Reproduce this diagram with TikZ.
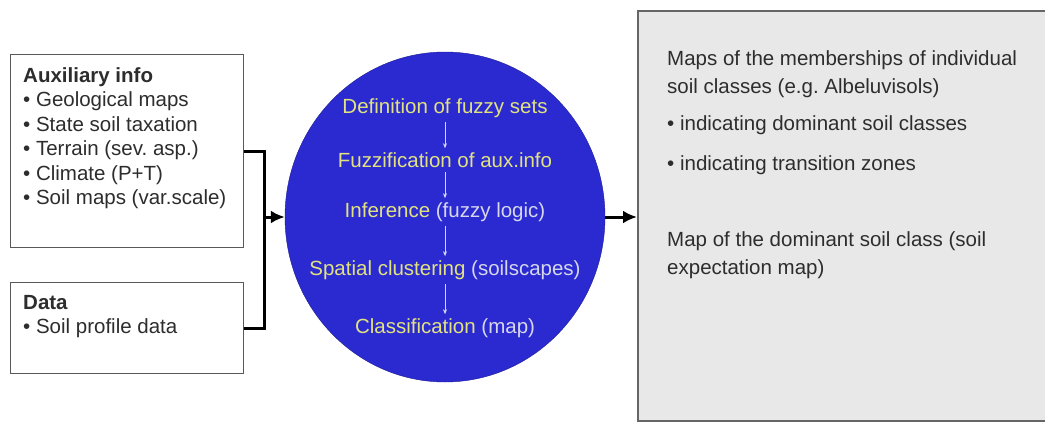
\documentclass[tikz,border=0pt]{standalone}
\usepackage{fontspec}
\setmainfont{Liberation Sans}
\usetikzlibrary{arrows.meta,positioning,shapes.geometric}
\definecolor{discblue}{RGB}{42,42,208}
\definecolor{stepyellow}{RGB}{226,226,128}
\definecolor{steplight}{RGB}{214,214,236}
\definecolor{boxgray}{RGB}{232,232,232}
\definecolor{textgray}{RGB}{45,45,45}

\begin{document}
\begin{tikzpicture}[
    x=1pt, y=-1pt,
    font=\fontsize{20.5}{24.5}\selectfont,
    >={Latex[length=14pt,width=13pt]},
    inbox/.style={draw=black!65, line width=1.4pt, fill=white, inner sep=0pt, anchor=north west},
    txt/.style={anchor=north west, inner sep=0pt, align=left, text=textgray},
    stepnode/.style={inner sep=0pt, text=stepyellow},
    steparr/.style={-{Stealth[length=5pt,width=4pt]}, draw=steplight, line width=0.8pt},
    flow/.style={line width=3pt},
    arr/.style={->, line width=3pt}
  ]
    \useasboundingbox (0,0) rectangle (1045,423);
    % inputs
    \node[inbox, minimum width=233pt, minimum height=193pt] (aux) at (10,54) {};
    \node[txt] (auxtxt) at (23,67) {\textbf{Auxiliary info}\\• Geological maps\\• State soil taxation\\• Terrain (sev.\ asp.)\\• Climate (P+T)\\• Soil maps (var.scale)};
    \node[inbox, minimum width=233pt, minimum height=91pt] (data) at (10,282) {};
    \node[txt] (datatxt) at (23,295) {\textbf{Data}\\• Soil profile data};
    % fuzzy procedure
    \node[ellipse, fill=discblue, draw=discblue!70!black, minimum width=320pt, minimum height=330pt, inner sep=0pt] (disc) at (445,217) {};
    \node[stepnode] (def) at (445,108) {Definition of fuzzy sets};
    \node[stepnode] (fuz) at (445,160) {Fuzzification of aux.info};
    \node[stepnode] (inf) at (445,212) {Inference \textcolor{steplight}{(fuzzy logic)}};
    \node[stepnode] (spa) at (445,270) {Spatial clustering \textcolor{steplight}{(soilscapes)}};
    \node[stepnode] (cla) at (445,328) {Classification \textcolor{steplight}{(map)}};
    \foreach \a/\b in {def/fuz, fuz/inf, inf/spa, spa/cla}
      \draw[steparr] ([yshift=-4pt]\a.south) -- ([yshift=4pt]\b.north);
    % results
    \node[draw=black!60, line width=1.5pt, fill=boxgray, anchor=north west, minimum width=430pt, minimum height=410pt, inner sep=0pt] (out) at (637,10) {};
    \node[txt, font=\fontsize{20.5}{28}\selectfont] (maps) at (667,50) {Maps of the memberships of individual\\soil classes (e.g.\ Albeluvisols)};
    \node[txt] (dom) at (667,115) {• indicating dominant soil classes};
    \node[txt] (tra) at (667,155) {• indicating transition zones};
    \node[txt, font=\fontsize{20.5}{28}\selectfont] (expt) at (667,231) {Map of the dominant soil class (soil\\expectation map)};
    % connectors
    \coordinate (jn) at (264,217);
    \draw[flow] (aux.east) -| (jn) |- (data.east);
    \draw[arr] (jn) -- (disc.west);
    \draw[arr] (disc.east) -- (disc.east -| out.west);
  \end{tikzpicture}
\end{document}
